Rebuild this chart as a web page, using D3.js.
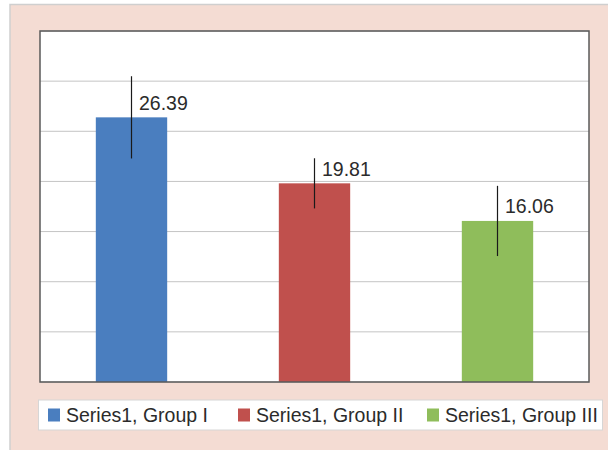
<!DOCTYPE html>
<html>
<head>
    <script src="https://d3js.org/d3.v7.min.js"></script>
    <style>
        body { margin: 0; background: #fff; }
        text { font-family: "Liberation Sans", Arial, sans-serif; fill: #2b2b2b; }
    </style>
</head>
<body>
    <svg width="608" height="450"></svg>

    <script>
    // chart data
    const groups = ["Series1, Group I", "Series1, Group II", "Series1, Group III"];
    const values = [26.39, 19.81, 16.06];
    const errors = [4.1, 2.5, 3.5];
    const colors = ["#4a7ebf", "#c0504d", "#8fbd5b"];
    const yTicks = [0, 5, 10, 15, 20, 25, 30, 35];

    const svg = d3.select("svg");

    // outer pink panel
    svg.append("rect")
        .attr("x", 10).attr("y", 4.5)
        .attr("width", 600).attr("height", 450)
        .attr("fill", "#f4dcd3")
        .attr("stroke", "#cfcfcf")
        .attr("stroke-width", 1.5);

    const plotLeft = 40, plotRight = 589, plotTop = 31, plotBottom = 382;

    const x = d3.scaleBand()
        .domain(groups)
        .range([plotLeft, plotRight])
        .paddingInner(0.61)
        .paddingOuter(0.305);

    const y = d3.scaleLinear()
        .domain([0, 35])
        .range([plotBottom, plotTop]);

    // plot area
    svg.append("rect")
        .attr("x", plotLeft).attr("y", plotTop)
        .attr("width", plotRight - plotLeft).attr("height", plotBottom - plotTop)
        .attr("fill", "#fff");

    // gridlines
    svg.append("g")
        .selectAll("line")
        .data(yTicks)
        .enter().append("line")
        .attr("x1", plotLeft).attr("x2", plotRight)
        .attr("y1", d => y(d)).attr("y2", d => y(d))
        .attr("stroke", "#c4c4c4")
        .attr("stroke-width", 1);

    // bars
    svg.selectAll("rect.bar")
        .data(values)
        .enter().append("rect")
        .attr("class", "bar")
        .attr("x", (d, i) => x(groups[i]))
        .attr("y", d => y(d))
        .attr("width", x.bandwidth())
        .attr("height", d => y(0) - y(d))
        .attr("fill", (d, i) => colors[i]);

    // error bars
    svg.selectAll("line.err")
        .data(values)
        .enter().append("line")
        .attr("class", "err")
        .attr("x1", (d, i) => x(groups[i]) + x.bandwidth() / 2)
        .attr("x2", (d, i) => x(groups[i]) + x.bandwidth() / 2)
        .attr("y1", (d, i) => y(d + errors[i]))
        .attr("y2", (d, i) => y(d - errors[i]))
        .attr("stroke", "#1a1a1a")
        .attr("stroke-width", 1.2);

    // value labels
    svg.selectAll("text.val")
        .data(values)
        .enter().append("text")
        .attr("class", "val")
        .attr("x", (d, i) => x(groups[i]) + x.bandwidth() / 2 + 7.5)
        .attr("y", d => y(d) - 7.5)
        .style("font-size", "19.5px")
        .text(d => d.toFixed(2));

    // plot border
    svg.append("rect")
        .attr("x", plotLeft).attr("y", plotTop)
        .attr("width", plotRight - plotLeft).attr("height", plotBottom - plotTop)
        .attr("fill", "none")
        .attr("stroke", "#5a5a5a")
        .attr("stroke-width", 1.5);

    // legend
    svg.append("rect")
        .attr("x", 38.5).attr("y", 400)
        .attr("width", 564).attr("height", 30)
        .attr("fill", "#fff")
        .attr("stroke", "#d6d6d6");

    const legendX = [48, 238, 427];
    const item = svg.selectAll("g.leg")
        .data(groups)
        .enter().append("g")
        .attr("class", "leg")
        .attr("transform", (d, i) => "translate(" + legendX[i] + ",0)");

    item.append("rect")
        .attr("x", 0).attr("y", 408.5)
        .attr("width", 12).attr("height", 13)
        .attr("fill", (d, i) => colors[i]);

    item.append("text")
        .attr("x", 18).attr("y", 421.5)
        .style("font-size", "19.5px")
        .text(d => d);
    </script>
</body>
</html>
